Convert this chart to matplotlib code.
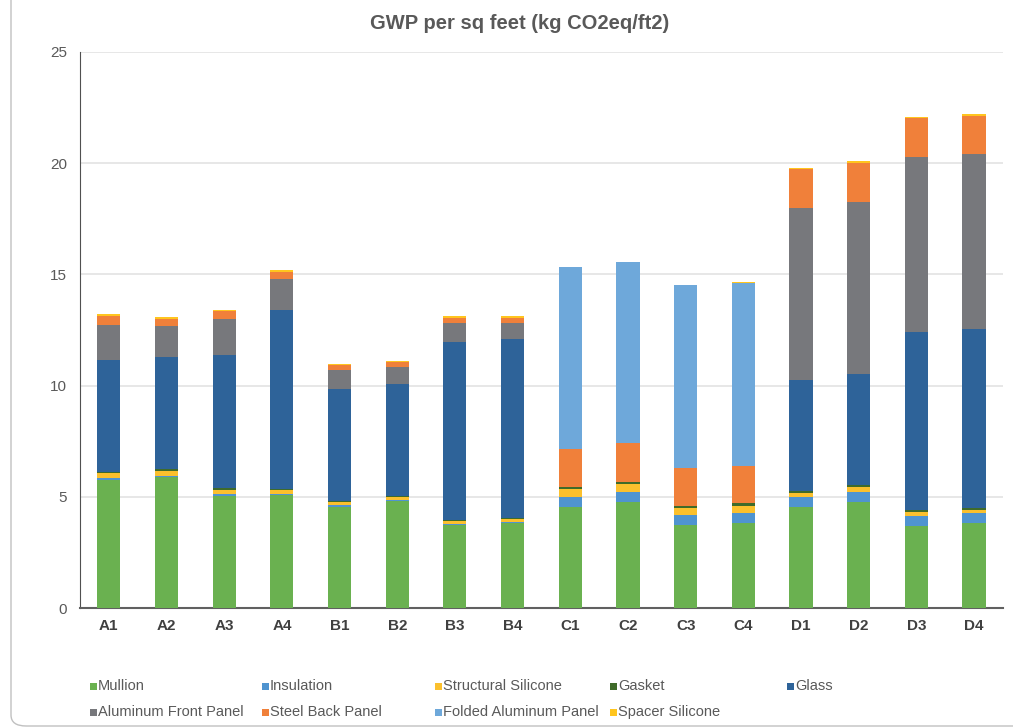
import matplotlib.pyplot as plt
from matplotlib.patches import FancyBboxPatch, Rectangle
import numpy as np

plt.rcParams['font.family'] = ['Liberation Sans', 'DejaVu Sans']

panels = ['A1', 'A2', 'A3', 'A4', 'B1', 'B2', 'B3', 'B4',
          'C1', 'C2', 'C3', 'C4', 'D1', 'D2', 'D3', 'D4']

mullion = [5.76, 5.90, 5.05, 5.08, 4.56, 4.81, 3.73, 3.84,
           4.53, 4.78, 3.73, 3.84, 4.53, 4.78, 3.70, 3.81]
insulation = [0.08, 0.05, 0.06, 0.06, 0.05, 0.04, 0.04, 0.04,
              0.45, 0.45, 0.45, 0.45, 0.45, 0.45, 0.45, 0.45]
structural_silicone = [0.22, 0.22, 0.20, 0.16, 0.17, 0.15, 0.16, 0.11,
                       0.37, 0.35, 0.33, 0.31, 0.20, 0.21, 0.18, 0.16]
gasket = [0.05, 0.07, 0.07, 0.06, 0.05, 0.05, 0.05, 0.05,
          0.08, 0.10, 0.08, 0.11, 0.08, 0.08, 0.08, 0.08]
glass = [5.04, 5.03, 6.00, 8.04, 5.00, 5.02, 8.00, 8.04,
         0, 0, 0, 0, 4.99, 4.99, 8.02, 8.03]
aluminum_front = [1.57, 1.41, 1.62, 1.39, 0.85, 0.78, 0.85, 0.75,
                  0, 0, 0, 0, 7.75, 7.76, 7.83, 7.87]
steel_back = [0.41, 0.32, 0.35, 0.33, 0.23, 0.20, 0.22, 0.22,
              1.72, 1.72, 1.72, 1.69, 1.72, 1.75, 1.77, 1.72]
folded_aluminum = [0, 0, 0, 0, 0, 0, 0, 0,
                   8.17, 8.14, 8.21, 8.23, 0, 0, 0, 0]
spacer_silicone = [0.09, 0.07, 0.06, 0.06, 0.08, 0.07, 0.08, 0.07,
                   0.02, 0.02, 0.02, 0.02, 0.08, 0.06, 0.05, 0.07]

series = [
    ('Mullion', mullion, '#6ab150'),
    ('Insulation', insulation, '#4f94d0'),
    ('Structural Silicone', structural_silicone, '#fbc02d'),
    ('Gasket', gasket, '#3f6b2a'),
    ('Glass', glass, '#2e6399'),
    ('Aluminum Front Panel', aluminum_front, '#77787c'),
    ('Steel Back Panel', steel_back, '#f0803a'),
    ('Folded Aluminum Panel', folded_aluminum, '#6ea8da'),
    ('Spacer Silicone', spacer_silicone, '#ffc51e'),
]

fig = plt.figure(figsize=(10.13, 7.28), dpi=100)
ax = fig.add_axes([0.079, 0.1648, 0.911, 0.7638])

x = np.arange(len(panels))
bottom = np.zeros(len(panels))
for name, vals, color in series:
    vals = np.array(vals)
    ax.bar(x, vals, width=0.4, bottom=bottom, color=color, label=name, zorder=3)
    bottom += vals

ax.set_xlim(-0.5, len(panels) - 0.5)
ax.set_ylim(0, 25)
ax.set_yticks([0, 5, 10, 15, 20, 25])
ax.set_xticks(x)
ax.set_xticklabels(panels, fontsize=11, fontweight='bold', color='#404040')
ax.tick_params(axis='y', labelsize=11, labelcolor='#595959', length=0, pad=9.5)
ax.tick_params(axis='x', length=0, pad=8)
ax.grid(axis='y', color='#e3e3e3', linewidth=1.2, zorder=0)
for s in ['top', 'right']:
    ax.spines[s].set_visible(False)
ax.spines['left'].set_color('#505050')
ax.spines['bottom'].set_color('#606060')
ax.spines['bottom'].set_linewidth(1.5)

fig.text(0.513, 0.968, 'GWP per sq feet (kg CO2eq/ft2)', ha='center', va='center',
         fontsize=14.5, fontweight='bold', color='#595959')

# legend, laid out by hand in two rows like the original
col_x = [90, 262, 435, 610, 787]
rows_y = [686, 712]
for i, (name, vals, color) in enumerate(series):
    r, c = divmod(i, 5)
    px, py = col_x[c], 728 - rows_y[r]
    fig.patches.append(Rectangle((px / 1013, (py - 3.5) / 728), 7 / 1013, 7 / 728,
                                 transform=fig.transFigure, facecolor=color,
                                 edgecolor='none'))
    fig.text((px + 8) / 1013, py / 728, name, ha='left', va='center',
             fontsize=10.5, color='#595959')

# chart area border (only left and bottom edges show in the original)
fig.patches.append(FancyBboxPatch((11 / 1013, 2 / 728), 1100 / 1013, 800 / 728,
                                  boxstyle='round,pad=0,rounding_size=0.015',
                                  transform=fig.transFigure, facecolor='none',
                                  edgecolor='#c0c0c0', linewidth=1))

fig.savefig('out.png', dpi=100)
